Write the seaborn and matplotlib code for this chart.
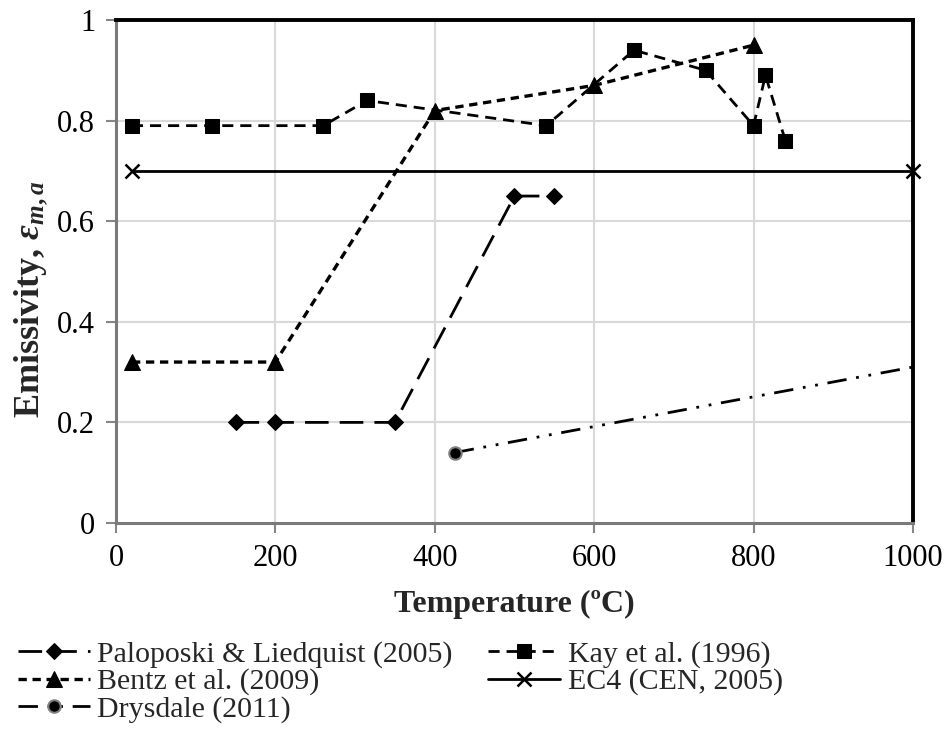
import matplotlib
matplotlib.use("Agg")
import matplotlib.pyplot as plt
import seaborn as sns

# Emissivity of steel vs. temperature from several sources
palo_t = [150, 200, 350, 500, 550]
palo_e = [0.20, 0.20, 0.20, 0.65, 0.65]

kay_t = [20, 120, 260, 315, 540, 650, 740, 800, 815, 840]
kay_e = [0.79, 0.79, 0.79, 0.84, 0.79, 0.94, 0.90, 0.79, 0.89, 0.76]

bentz_t = [20, 200, 400, 600, 800]
bentz_e = [0.32, 0.32, 0.82, 0.87, 0.95]

ec4_t = [20, 1000]
ec4_e = [0.70, 0.70]

drys_t = [425, 1000]
drys_e = [0.14, 0.31]

x_ticks = [0, 200, 400, 600, 800, 1000]
y_ticks = [0, 0.2, 0.4, 0.6, 0.8, 1.0]
y_tick_labels = ["0", "0.2", "0.4", "0.6", "0.8", "1"]

sns.set_theme(style="white")
plt.rcParams["font.family"] = ["Liberation Serif", "DejaVu Serif"]
plt.rcParams["mathtext.fontset"] = "custom"
plt.rcParams["mathtext.rm"] = "Liberation Serif:bold"
plt.rcParams["mathtext.it"] = "Liberation Serif:bold:italic"
plt.rcParams["mathtext.bf"] = "Liberation Serif:bold"

fig = plt.figure(figsize=(9.47, 7.36), dpi=100)
ax = fig.add_axes([0.1225, 0.2894, 0.8415, 0.6834])

grid_c = "#d9d9d9"
for v in x_ticks[1:-1]:
    ax.axvline(v, color=grid_c, lw=1.5, zorder=0)
for v in y_ticks[1:-1]:
    ax.axhline(v, color=grid_c, lw=1.5, zorder=0)

common = dict(ax=ax, color="black", estimator=None, sort=False, clip_on=False)

sns.lineplot(x=palo_t, y=palo_e, marker="D", markersize=8, lw=2,
             linestyle=(0, (8.5, 4)), label="Paloposki & Liedquist (2005)",
             markeredgecolor="black", **common)
sns.lineplot(x=kay_t, y=kay_e, marker="s", markersize=10, lw=2,
             linestyle=(0, (4, 2.5)), label="Kay et al. (1996)",
             markeredgecolor="black", **common)
sns.lineplot(x=bentz_t, y=bentz_e, marker="^", markersize=11, lw=2.4,
             linestyle=(0, (2.5, 1.7)), label="Bentz et al. (2009)",
             markeredgecolor="black", **common)
sns.lineplot(x=ec4_t, y=ec4_e, marker="x", markersize=10, lw=2,
             markeredgewidth=1.8, markeredgecolor="black", linestyle="-",
             label="EC4 (CEN, 2005)", **common)
sns.lineplot(x=drys_t, y=drys_e, marker="o", markersize=9, lw=2,
             markevery=[0], markeredgecolor="#808080", markeredgewidth=1.5,
             linestyle=(0, (7, 3.5, 1, 3.5, 1, 3.5)), label="Drysdale (2011)",
             **common)

ax.set_xlim(0, 1000)
ax.set_ylim(0, 1)
ax.set_xticks(x_ticks)
ax.set_yticks(y_ticks)
ax.set_yticklabels(y_tick_labels)
ax.tick_params(axis="both", which="major", direction="out", length=7,
               width=1.5, color="#868686", labelsize=22, pad=8,
               bottom=True, left=True, labelcolor="black")

for side in ("top", "right"):
    ax.spines[side].set_color("black")
    ax.spines[side].set_linewidth(2.8)
for side in ("left", "bottom"):
    ax.spines[side].set_color("#7a7a7a")
    ax.spines[side].set_linewidth(2.2)
for s in ax.spines.values():
    s.set_zorder(5)
    s.set_visible(True)

ax.set_xlabel("Temperature (ºC)", fontsize=23, fontweight="bold", labelpad=12)
ax.set_ylabel(r"Emissivity, $\varepsilon_{m,a}$", fontsize=26,
              fontweight="bold")
ax.yaxis.set_label_coords(-0.083, 0.445)

if ax.legend_ is not None:
    ax.legend_.remove()
handles, labels = ax.get_legend_handles_labels()
# row-wise reading order across two columns
order = [0, 2, 4, 1, 3]
fig.legend([handles[i] for i in order], [labels[i] for i in order],
           loc="upper left", bbox_to_anchor=(18 / 947, 1 - 641 / 736),
           bbox_transform=fig.transFigure, ncol=2, frameon=False,
           fontsize=21.5, handlelength=2.4, handletextpad=0.25,
           columnspacing=1.2, labelspacing=0.0, borderpad=0,
           borderaxespad=0)

fig.savefig("out.png", dpi=100)
